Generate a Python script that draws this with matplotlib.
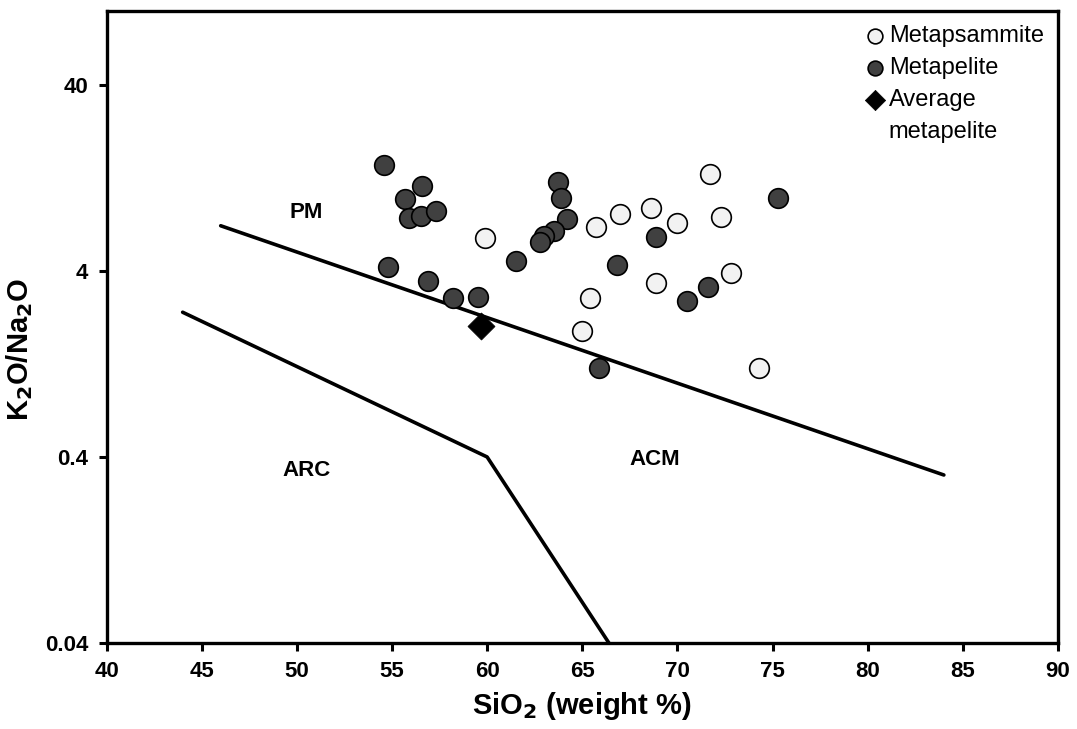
import matplotlib
matplotlib.use("Agg")
import matplotlib.pyplot as plt
from matplotlib.lines import Line2D
from matplotlib.ticker import FixedLocator, FixedFormatter, NullLocator

plt.rcParams['font.family'] = ['Liberation Sans', 'DejaVu Sans']

# Metapelite (dark circles)
pel_sio2 = [54.6, 55.7, 56.6, 55.9, 56.5, 57.3, 54.8, 56.9, 58.2, 59.5,
            63.7, 63.9, 64.2, 63.5, 63.0, 62.8, 61.5, 65.9, 66.8, 68.9,
            71.6, 70.5, 75.3]
pel_ratio = [14.8, 9.7, 11.4, 7.7, 7.9, 8.4, 4.2, 3.55, 2.86, 2.88,
             12.0, 9.9, 7.6, 6.6, 6.2, 5.75, 4.55, 1.2, 4.3, 6.1,
             3.3, 2.75, 9.9]

# Metapsammite (light circles)
psa_sio2 = [59.9, 65.7, 67.0, 68.6, 70.0, 71.7, 72.3, 68.9, 72.8, 65.4, 65.0, 74.3]
psa_ratio = [6.0, 6.9, 8.1, 8.7, 7.2, 13.3, 7.8, 3.46, 3.9, 2.87, 1.91, 1.2]

# Average metapelite
avg_sio2 = [59.7]
avg_ratio = [2.02]

# Discrimination boundaries
pm_line_x = [46, 84]
pm_line_y = [7.0, 0.32]
arc_line_x = [44, 60, 66.4]
arc_line_y = [2.4, 0.4, 0.04]

# Field labels
field_names = ["PM", "ARC", "ACM"]
field_x = [50.5, 50.5, 68.8]
field_y = [8.2, 0.34, 0.39]

yticks = [0.04, 0.4, 4, 40]
ytick_labels = ["0.04", "0.4", "4", "40"]
xticks = list(range(40, 91, 5))

fig = plt.figure(figsize=(10.77, 7.29), dpi=100)
ax = fig.add_axes([0.0989, 0.118, 0.8835, 0.867])

ax.plot(pm_line_x, pm_line_y, color='black', lw=2.6, solid_capstyle='round', zorder=2)
ax.plot(arc_line_x, arc_line_y, color='black', lw=2.6, solid_capstyle='round', zorder=2)

h1 = ax.scatter(psa_sio2, psa_ratio, s=200, facecolor='#f2f2f2', edgecolor='black',
                linewidth=1.2, zorder=3)
h2 = ax.scatter(pel_sio2, pel_ratio, s=200, facecolor='#404040', edgecolor='black',
                linewidth=1.2, zorder=3)
h3 = ax.scatter(avg_sio2, avg_ratio, s=190, marker='D', facecolor='black', edgecolor='black',
                linewidth=0.5, zorder=4)
blank = Line2D([], [], linestyle='none', marker='none')

for name, fx, fy in zip(field_names, field_x, field_y):
    ax.text(fx, fy, name, fontsize=16, fontweight='bold', ha='center', va='center')

ax.set_yscale('log')
ax.set_xlim(40, 90)
ax.set_ylim(0.04, 100)
ax.yaxis.set_major_locator(FixedLocator(yticks))
ax.yaxis.set_major_formatter(FixedFormatter(ytick_labels))
ax.yaxis.set_minor_locator(NullLocator())
ax.set_xticks(xticks)

for sp in ax.spines.values():
    sp.set_linewidth(2.4)
ax.tick_params(axis='both', which='major', direction='out', length=6, width=2.2, pad=7)
ax.tick_params(axis='x', labelsize=16)
ax.tick_params(axis='y', labelsize=16)
for lab in ax.get_xticklabels() + ax.get_yticklabels():
    lab.set_fontweight('bold')

ax.set_xlabel(r'SiO$_\mathbf{2}$ (weight %)', fontsize=21, fontweight='bold', labelpad=6)
ax.set_ylabel(r'K$_\mathbf{2}$O/Na$_\mathbf{2}$O', fontsize=21, fontweight='bold', labelpad=10)
ax.yaxis.set_label_coords(-0.075, 0.465)

leg = ax.legend([h1, h2, h3, blank],
                ['Metapsammite', 'Metapelite', 'Average', 'metapelite'],
                loc='upper right', frameon=False, fontsize=17, handletextpad=0.1,
                borderaxespad=0.2, labelspacing=0.42, markerscale=0.75, handlelength=1.0)

fig.savefig('out.png', dpi=100)
